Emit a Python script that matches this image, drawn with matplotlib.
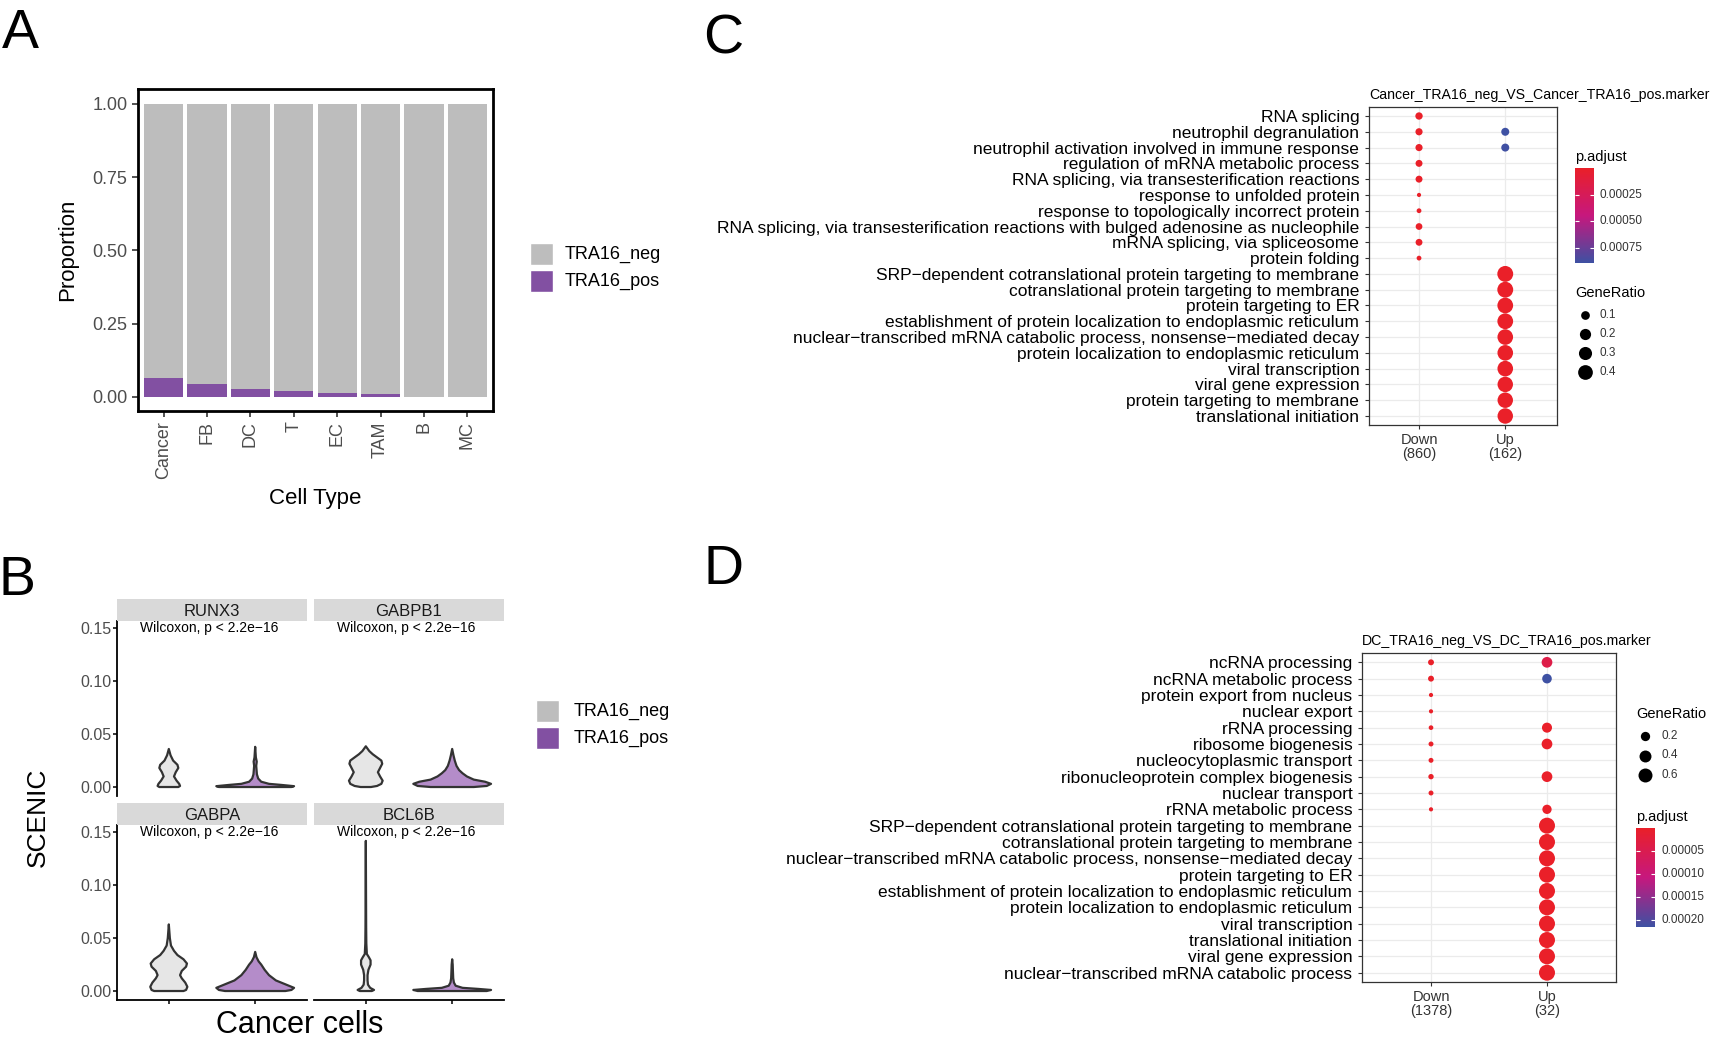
import numpy as np
import matplotlib
matplotlib.use('Agg')
import matplotlib.pyplot as plt
from matplotlib.colors import LinearSegmentedColormap
from matplotlib.patches import Rectangle

plt.rcParams['font.family'] = ['Liberation Sans', 'DejaVu Sans']
W, H = 1713, 1043

# ---------------- panel A ----------------
cell_types = ['Cancer', 'FB', 'DC', 'T', 'EC', 'TAM', 'B', 'MC']
pos_prop = [0.066, 0.044, 0.028, 0.020, 0.013, 0.010, 0.0, 0.0]
groups = ['TRA16_neg', 'TRA16_pos']

# ---------------- panel B ----------------
genes = ['RUNX3', 'GABPB1', 'GABPA', 'BCL6B']
runx3_neg_y = [0.0, 0.001, 0.003, 0.006, 0.010, 0.014, 0.018, 0.021, 0.025, 0.030, 0.036]
runx3_neg_w = [0.11, 0.13, 0.12, 0.09, 0.06, 0.08, 0.11, 0.10, 0.05, 0.02, 0.0]
runx3_pos_y = [0.0, 0.0008, 0.002, 0.003, 0.005, 0.008, 0.012, 0.020, 0.024, 0.028, 0.038]
runx3_pos_w = [0.42, 0.45, 0.30, 0.16, 0.07, 0.035, 0.02, 0.012, 0.018, 0.008, 0.0]
gabpb1_neg_y = [0.0, 0.001, 0.003, 0.006, 0.010, 0.014, 0.018, 0.022, 0.025, 0.028, 0.031, 0.034, 0.0385]
gabpb1_neg_w = [0.06, 0.13, 0.18, 0.195, 0.165, 0.14, 0.165, 0.19, 0.18, 0.13, 0.08, 0.04, 0.0]
gabpb1_pos_y = [0.0, 0.001, 0.003, 0.005, 0.007, 0.010, 0.013, 0.016, 0.020, 0.025, 0.030, 0.036]
gabpb1_pos_w = [0.25, 0.40, 0.45, 0.38, 0.25, 0.17, 0.12, 0.08, 0.05, 0.03, 0.015, 0.0]
gabpa_neg_y = [0.0, 0.001, 0.004, 0.008, 0.012, 0.015, 0.019, 0.023, 0.026, 0.030, 0.034, 0.038, 0.043, 0.050, 0.063]
gabpa_neg_w = [0.17, 0.20, 0.215, 0.19, 0.15, 0.13, 0.15, 0.20, 0.21, 0.17, 0.10, 0.06, 0.025, 0.012, 0.0]
gabpa_pos_y = [0.0, 0.001, 0.003, 0.006, 0.010, 0.015, 0.020, 0.025, 0.028, 0.032, 0.037]
gabpa_pos_w = [0.35, 0.42, 0.45, 0.36, 0.24, 0.16, 0.11, 0.07, 0.04, 0.015, 0.0]
bcl6b_neg_y = [0.0, 0.001, 0.003, 0.006, 0.010, 0.015, 0.020, 0.025, 0.029, 0.032, 0.035, 0.045, 0.060, 0.142]
bcl6b_neg_w = [0.07, 0.095, 0.05, 0.025, 0.02, 0.02, 0.03, 0.055, 0.055, 0.035, 0.012, 0.006, 0.004, 0.0]
bcl6b_pos_y = [0.0, 0.001, 0.002, 0.003, 0.005, 0.008, 0.012, 0.020, 0.025, 0.030]
bcl6b_pos_w = [0.40, 0.45, 0.30, 0.12, 0.04, 0.02, 0.012, 0.008, 0.006, 0.0]

# ---------------- panel C ----------------
c_terms = ['RNA splicing', 'neutrophil degranulation',
           'neutrophil activation involved in immune response',
           'regulation of mRNA metabolic process',
           'RNA splicing, via transesterification reactions',
           'response to unfolded protein',
           'response to topologically incorrect protein',
           'RNA splicing, via transesterification reactions with bulged adenosine as nucleophile',
           'mRNA splicing, via spliceosome', 'protein folding',
           'SRP\u2212dependent cotranslational protein targeting to membrane',
           'cotranslational protein targeting to membrane',
           'protein targeting to ER',
           'establishment of protein localization to endoplasmic reticulum',
           'nuclear\u2212transcribed mRNA catabolic process, nonsense\u2212mediated decay',
           'protein localization to endoplasmic reticulum',
           'viral transcription', 'viral gene expression',
           'protein targeting to membrane', 'translational initiation']
nan = np.nan
c_down_ratio = [0.060, 0.055, 0.055, 0.050, 0.050, 0.006, 0.012, 0.045, 0.048, 0.012] + [nan] * 10
c_down_padj = [1e-6] * 10 + [nan] * 10
c_up_ratio = [nan, 0.078, 0.078] + [nan] * 7 + [0.48, 0.48, 0.47, 0.47, 0.46, 0.46, 0.46, 0.45, 0.45, 0.45]
c_up_padj = [nan, 0.00089, 0.00088] + [nan] * 7 + [1e-20] * 10
c_xlabels = ['Down\n(860)', 'Up\n(162)']
c_padj_ticks = [0.00025, 0.00050, 0.00075]
c_ratio_ticks = [0.1, 0.2, 0.3, 0.4]

# ---------------- panel D ----------------
d_terms = ['ncRNA processing', 'ncRNA metabolic process', 'protein export from nucleus',
           'nuclear export', 'rRNA processing', 'ribosome biogenesis',
           'nucleocytoplasmic transport', 'ribonucleoprotein complex biogenesis',
           'nuclear transport', 'rRNA metabolic process',
           'SRP\u2212dependent cotranslational protein targeting to membrane',
           'cotranslational protein targeting to membrane',
           'nuclear\u2212transcribed mRNA catabolic process, nonsense\u2212mediated decay',
           'protein targeting to ER',
           'establishment of protein localization to endoplasmic reticulum',
           'protein localization to endoplasmic reticulum',
           'viral transcription', 'translational initiation', 'viral gene expression',
           'nuclear\u2212transcribed mRNA catabolic process']
d_down_ratio = [0.045, 0.045, 0.008, 0.008, 0.015, 0.02, 0.02, 0.03, 0.02, 0.008] + [nan] * 10
d_down_padj = [1e-8] * 10 + [nan] * 10
d_up_ratio = [0.30, 0.22, nan, nan, 0.25, 0.30, nan, 0.30, nan, 0.20] + [0.84] * 10
d_up_padj = [0.00004, 0.000215, nan, nan, 1e-6, 1e-6, nan, 1e-6, nan, 1e-6] + [1e-25] * 10
d_xlabels = ['Down\n(1378)', 'Up\n(32)']
d_padj_ticks = [0.00005, 0.00010, 0.00015, 0.00020]
d_ratio_ticks = [0.2, 0.4, 0.6]

grey = '#BDBDBD'
purple = '#8250A2'
grey_v = '#E6E6E6'
purple_v = '#B48CC9'
cmap = LinearSegmentedColormap.from_list('padj', ['#EA2029', '#C7187E', '#3E51A3'])

fig = plt.figure(figsize=(W / 100, H / 100), dpi=100)


def box(x0, y0, x1, y1):
    return [x0 / W, 1 - y1 / H, (x1 - x0) / W, (y1 - y0) / H]


def ftext(x, y, s, **kw):
    fig.text(x / W, 1 - y / H, s, **kw)


# ---- A: stacked bars ----
axA = fig.add_axes(box(138, 89, 493, 411))
xa = np.arange(len(cell_types))
pos_prop = np.array(pos_prop)
axA.bar(xa, pos_prop, width=0.9, color=purple, linewidth=0)
axA.bar(xa, 1 - pos_prop, bottom=pos_prop, width=0.9, color=grey, linewidth=0)
axA.set_xlim(-0.59, 7.59)
axA.set_ylim(-0.048, 1.051)
axA.set_yticks([0, 0.25, 0.5, 0.75, 1.0])
axA.set_yticklabels(['0.00', '0.25', '0.50', '0.75', '1.00'])
axA.set_xticks(xa)
axA.set_xticklabels(cell_types, rotation=90)
axA.tick_params(labelsize=13, labelcolor='#4D4D4D', length=4, width=1.2, color='#333333')
for s in axA.spines.values():
    s.set_linewidth(2)
    s.set_color('black')
axA.set_ylabel('Proportion', fontsize=16, labelpad=10)
axA.set_xlabel('Cell Type', fontsize=16, labelpad=6)

# ---- B: violins ----
violins = {
    'RUNX3': [(runx3_neg_y, runx3_neg_w), (runx3_pos_y, runx3_pos_w)],
    'GABPB1': [(gabpb1_neg_y, gabpb1_neg_w), (gabpb1_pos_y, gabpb1_pos_w)],
    'GABPA': [(gabpa_neg_y, gabpa_neg_w), (gabpa_pos_y, gabpa_pos_w)],
    'BCL6B': [(bcl6b_neg_y, bcl6b_neg_w), (bcl6b_pos_y, bcl6b_pos_w)],
}
b_boxes = [(117, 621, 307, 796), (314, 621, 504, 796),
           (117, 825, 307, 1000), (314, 825, 504, 1000)]
for k, g in enumerate(genes):
    x0, y0, x1, y1 = b_boxes[k]
    ax = fig.add_axes(box(x0, y0, x1, y1))
    for j, (vy, vw) in enumerate(violins[g]):
        vy = np.array(vy)
        vw = np.array(vw)
        c = j + 1
        xs = np.concatenate([c - vw, (c + vw)[::-1]])
        ys = np.concatenate([vy, vy[::-1]])
        ax.fill(xs, ys, facecolor=[grey_v, purple_v][j], edgecolor='#333333',
                linewidth=1.6, joinstyle='round')
    ax.set_xlim(0.4, 2.6)
    ax.set_ylim(-0.0085, 0.157)
    ax.text(1.47, 0.15, 'Wilcoxon, p < 2.2e\u221216', ha='center', va='center', fontsize=10)
    for s in ax.spines.values():
        s.set_visible(False)
    left = k % 2 == 0
    bottom = k >= 2
    ax.spines['left'].set_visible(left)
    ax.spines['bottom'].set_visible(bottom)
    ax.spines['left'].set_linewidth(1.3)
    ax.spines['bottom'].set_linewidth(1.3)
    ax.set_xticks([1, 2] if bottom else [])
    ax.set_xticklabels([])
    ax.set_yticks([0, 0.05, 0.10, 0.15] if left else [])
    ax.set_yticklabels(['0.00', '0.05', '0.10', '0.15'] if left else [])
    ax.tick_params(labelsize=11.5, labelcolor='#4D4D4D', length=3, width=1.1, pad=1)
    ax.patch.set_alpha(0)
    sax = fig.add_axes(box(x0, y0 - 22, x1, y0))
    sax.set_facecolor('#D9D9D9')
    sax.set_xticks([])
    sax.set_yticks([])
    for s in sax.spines.values():
        s.set_visible(False)
    sax.text(0.5, 0.45, g, ha='center', va='center', fontsize=12, color='#1A1A1A',
             transform=sax.transAxes)
ftext(38, 817, 'SCENIC', rotation=90, ha='center', va='center', fontsize=19)
ftext(300, 1025, 'Cancer cells', ha='center', va='center', fontsize=22)


# ---- C / D: dot plots ----
def dot_s(r, a, b):
    d = a + b * np.sqrt(np.asarray(r, dtype=float))
    return (d * 0.72) ** 2


def dotplot(bx, terms, ratios, padjs, xlabels, vmax, a, b, title, xlim):
    ax = fig.add_axes(box(*bx))
    ny = len(terms)
    yy = np.arange(ny)
    ax.set_axisbelow(True)
    for j in range(2):
        r = np.array(ratios[j], dtype=float)
        p = np.array(padjs[j], dtype=float)
        ok = ~np.isnan(r)
        ax.scatter(np.full(ok.sum(), j), yy[ok], s=dot_s(r[ok], a, b), c=p[ok],
                   cmap=cmap, vmin=0, vmax=vmax, linewidths=0, zorder=3)
    ax.set_xlim(*xlim)
    ax.set_ylim(ny - 0.43, -0.57)
    ax.set_yticks(yy)
    ax.set_yticklabels(terms, fontsize=12.5)
    ax.set_xticks([0, 1])
    ax.set_xticklabels(xlabels, fontsize=10.5, color='#333333', linespacing=1.0)
    ax.tick_params(length=3, width=0.8, color='#333333', pad=3)
    ax.tick_params(axis='y', pad=4)
    ax.grid(True, color='#EBEBEB', linewidth=0.9)
    for s in ax.spines.values():
        s.set_color('#333333')
        s.set_linewidth(0.9)
    ax.set_title(title, loc='left', fontsize=10.2, pad=6)
    return ax


dotplot((1369, 107, 1557, 425), c_terms, [c_down_ratio, c_up_ratio],
        [c_down_padj, c_up_padj], c_xlabels, 0.00089, 2.7, 19.0,
        'Cancer_TRA16_neg_VS_Cancer_TRA16_pos.marker', (-0.58, 1.60))
dotplot((1362, 653, 1616, 982), d_terms, [d_down_ratio, d_up_ratio],
        [d_down_padj, d_up_padj], d_xlabels, 0.000215, 2.9, 14.3,
        'DC_TRA16_neg_VS_DC_TRA16_pos.marker', (-0.595, 1.595))


def colorbar(bx, vmax, ticks, tx):
    cax = fig.add_axes(box(*bx))
    grad = np.linspace(0, vmax, 256)[:, None]
    cax.imshow(grad, aspect='auto', cmap=cmap, vmin=0, vmax=vmax,
               extent=[0, 1, vmax, 0])
    cax.set_xlim(0, 1)
    cax.set_ylim(vmax, 0)
    cax.hlines(ticks, 0, 0.2, color='white', linewidth=0.8)
    cax.hlines(ticks, 0.8, 1, color='white', linewidth=0.8)
    cax.axis('off')
    for t in ticks:
        ytx = bx[1] + (bx[3] - bx[1]) * t / vmax
        ftext(tx, ytx, '%.5f' % t, ha='left', va='center', fontsize=8.5, color='#333333')


colorbar((1575, 168, 1594, 263), 0.00089, c_padj_ticks, 1600)
colorbar((1636, 828, 1655, 927), 0.000215, d_padj_ticks, 1662)
ftext(1575, 157, 'p.adjust', ha='left', va='center', fontsize=10.5)
ftext(1575, 293, 'GeneRatio', ha='left', va='center', fontsize=10.5)
ftext(1636, 817, 'p.adjust', ha='left', va='center', fontsize=10.5)
ftext(1636, 714, 'GeneRatio', ha='left', va='center', fontsize=10.5)

# overlay for legends and panel letters
ov = fig.add_axes([0, 0, 1, 1])
ov.set_xlim(0, W)
ov.set_ylim(H, 0)
ov.axis('off')
ov.patch.set_alpha(0)
for i, t in enumerate(c_ratio_ticks):
    yl = 315 + i * 19
    ov.scatter([1585], [yl], s=dot_s(t, 2.7, 19.0), color='black', linewidths=0)
    ov.text(1600, yl, '%.1f' % t, ha='left', va='center', fontsize=8.5, color='#333333')
for i, t in enumerate(d_ratio_ticks):
    yl = 736 + i * 19.5
    ov.scatter([1645], [yl], s=dot_s(t, 2.9, 14.3), color='black', linewidths=0)
    ov.text(1662, yl, '%.1f' % t, ha='left', va='center', fontsize=8.5, color='#333333')

for (kx, ky, tx), fs in [((530, 243, 565), 13), ((536, 700, 574), 13)]:
    for i, g in enumerate(groups):
        yk = ky + i * 27
        ov.add_patch(Rectangle((kx, yk), 23, 22, facecolor=[grey, purple][i], edgecolor='white', lw=1))
        ov.text(tx, yk + 11, g, ha='left', va='center', fontsize=fs)

for letter, (lx, ly) in zip('ABCD', [(20, 34), (17, 581), (723, 39), (724, 570)]):
    ov.text(lx, ly, letter, ha='center', va='center', fontsize=40)

fig.savefig('out.png', dpi=100)
